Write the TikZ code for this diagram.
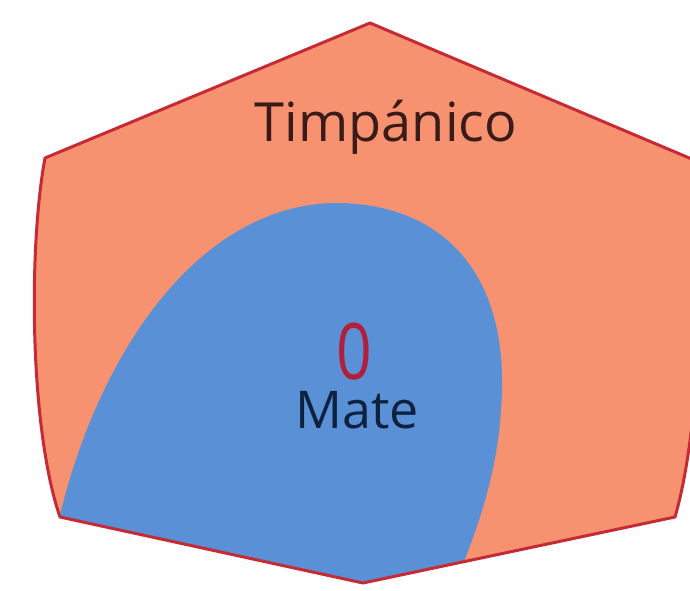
\documentclass[tikz,border=0pt]{standalone}
\usepackage{fontspec}
\setmainfont{Open Sans}
\definecolor{salmon}{HTML}{F79270}
\definecolor{bluefill}{HTML}{5A91D6}
\definecolor{edgered}{HTML}{C62A35}
\definecolor{txtbrown}{HTML}{3B1A1A}
\definecolor{txtnavy}{HTML}{0E2240}
\definecolor{zerored}{HTML}{B0203A}
\tikzset{
  regionedge/.style={draw=edgered, line width=3pt, line join=round},
  lbl/.style={inner sep=0pt, anchor=base},
}
\begin{document}
\begin{tikzpicture}[x=1pt,y=-1pt]
\useasboundingbox (0,0) rectangle (690,591);
\clip (0,0) rectangle (690,591);
% outer region
\path[fill=salmon] (45,158) -- (370,23) -- (694,160)
  .. controls (704,280) and (700,430) .. (675,517) -- (363,583) -- (60,517)
  .. controls (30,430) and (28,250) .. (45,158) -- cycle;
% inner region clipped to outer
\begin{scope}
\clip (45,158) -- (370,23) -- (694,160)
  .. controls (704,280) and (700,430) .. (675,517) -- (363,583) -- (60,517)
  .. controls (30,430) and (28,250) .. (45,158) -- cycle;
\fill[bluefill] (50,540) -- (60,515) .. controls (100,350) and (200,205) .. (335,203)
  .. controls (440,203) and (505,270) .. (502,390)
  .. controls (500,470) and (478,530) .. (448,600) -- cycle;
\end{scope}
\path[regionedge] (45,158) -- (370,23) -- (694,160)
  .. controls (704,280) and (700,430) .. (675,517) -- (363,583) -- (60,517)
  .. controls (30,430) and (28,250) .. (45,158) -- cycle;
% labels
\node[lbl, text=txtbrown, font=\fontsize{54}{60}\selectfont] (timp) at (386,142) {Timpánico};
\node[lbl, text=zerored, font=\fontsize{78}{80}\selectfont, xscale=0.8] (zero) at (354,379) {0};
\node[lbl, text=txtnavy, font=\fontsize{52}{60}\selectfont] (mate) at (357,428) {Mate};
\end{tikzpicture}
\end{document}
